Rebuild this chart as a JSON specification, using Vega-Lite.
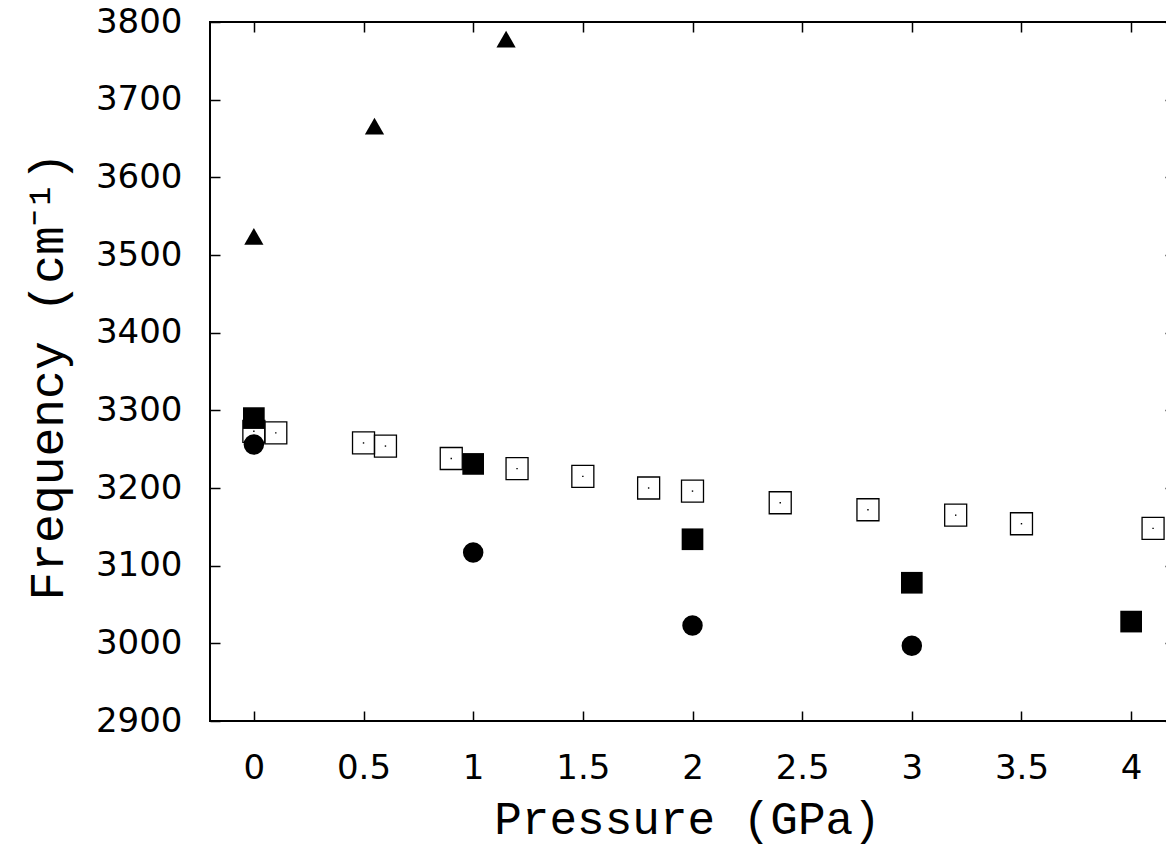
{
  "$schema": "https://vega.github.io/schema/vega-lite/v6.json",
  "autosize": {"type": "none"},
  "padding": {"left": 210, "top": 22, "right": -9, "bottom": 125},
  "width": 965,
  "height": 699,
  "background": "white",
  "config": {
    "view": {"stroke": "black", "strokeWidth": 2},
    "axis": {
      "grid": false,
      "domain": false,
      "ticks": true,
      "tickColor": "black",
      "tickWidth": 1.5,
      "tickSize": -10,
      "labelFont": "DejaVu Sans",
      "labelFontSize": 34,
      "labelColor": "black",
      "labelFlush": false,
      "labelOverlap": false,
      "titleFont": "Liberation Mono",
      "titleFontWeight": "normal",
      "titleColor": "black"
    }
  },
  "datasets": {
    "open": [
      {"p": 0, "f": 3273},
      {"p": 0.1, "f": 3271},
      {"p": 0.5, "f": 3258},
      {"p": 0.6, "f": 3254},
      {"p": 0.9, "f": 3238},
      {"p": 1.2, "f": 3225},
      {"p": 1.5, "f": 3215},
      {"p": 1.8, "f": 3200},
      {"p": 2.0, "f": 3196},
      {"p": 2.4, "f": 3181},
      {"p": 2.8, "f": 3172},
      {"p": 3.2, "f": 3165},
      {"p": 3.5, "f": 3154},
      {"p": 4.1, "f": 3148}
    ],
    "filled": [
      {"series": "square", "p": 0, "f": 3290},
      {"series": "square", "p": 1, "f": 3231},
      {"series": "square", "p": 2, "f": 3134},
      {"series": "square", "p": 3, "f": 3078},
      {"series": "square", "p": 4, "f": 3028},
      {"series": "circle", "p": 0, "f": 3256},
      {"series": "circle", "p": 1, "f": 3117},
      {"series": "circle", "p": 2, "f": 3023},
      {"series": "circle", "p": 3, "f": 2997},
      {"series": "triangle", "p": 0, "f": 3524},
      {"series": "triangle", "p": 0.55, "f": 3666},
      {"series": "triangle", "p": 1.15, "f": 3778}
    ]
  },
  "layer": [
    {
      "data": {"name": "open"},
      "mark": {"type": "point", "shape": "square", "filled": false, "stroke": "black", "strokeWidth": 1.3, "size": 484, "opacity": 1},
      "encoding": {
        "x": {
          "field": "p", "type": "quantitative",
          "scale": {"domain": [-0.2, 4.2], "nice": false, "zero": false},
          "axis": {
            "orient": "bottom",
            "values": [0, 0.5, 1, 1.5, 2, 2.5, 3, 3.5, 4],
            "format": "~g",
            "labelPadding": 40,
            "title": "Pressure (GPa)",
            "titleFontSize": 46,
            "titleX": 477,
            "titleY": 112,
            "titleAlign": "center",
            "titleBaseline": "alphabetic"
          }
        },
        "y": {
          "field": "f", "type": "quantitative",
          "scale": {"domain": [2900, 3800], "nice": false, "zero": false},
          "axis": {
            "orient": "left",
            "values": [2900, 3000, 3100, 3200, 3300, 3400, 3500, 3600, 3700, 3800],
            "format": "d",
            "labelPadding": 38,
            "title": "Frequency (cm⁻¹)",
            "titleFontSize": 48,
            "titleAngle": -90,
            "titleX": -148,
            "titleY": 354,
            "titleAlign": "center",
            "titleBaseline": "alphabetic"
          }
        }
      }
    },
    {
      "data": {"name": "open"},
      "mark": {"type": "point", "shape": "square", "filled": true, "color": "black", "size": 2, "opacity": 1},
      "encoding": {
        "x": {
          "field": "p", "type": "quantitative",
          "scale": {"domain": [-0.2, 4.2], "nice": false, "zero": false},
          "axis": {"orient": "top", "values": [0, 0.5, 1, 1.5, 2, 2.5, 3, 3.5, 4], "labels": false, "title": null}
        },
        "y": {
          "field": "f", "type": "quantitative",
          "scale": {"domain": [2900, 3800], "nice": false, "zero": false},
          "axis": {"orient": "right", "values": [2900, 3000, 3100, 3200, 3300, 3400, 3500, 3600, 3700, 3800], "labels": false, "title": null}
        }
      }
    },
    {
      "data": {"name": "filled"},
      "mark": {"type": "point", "filled": true, "color": "black", "opacity": 1, "strokeWidth": 0},
      "encoding": {
        "x": {
          "field": "p", "type": "quantitative",
          "scale": {"domain": [-0.2, 4.2], "nice": false, "zero": false},
          "axis": null
        },
        "y": {
          "field": "f", "type": "quantitative",
          "scale": {"domain": [2900, 3800], "nice": false, "zero": false},
          "axis": null
        },
        "shape": {
          "field": "series", "type": "nominal",
          "scale": {"domain": ["square", "circle", "triangle"], "range": ["square", "circle", "triangle-up"]},
          "legend": null
        },
        "size": {
          "field": "series", "type": "nominal",
          "scale": {"domain": ["square", "circle", "triangle"], "range": [470, 370, 480]},
          "legend": null
        }
      }
    }
  ],
  "resolve": {"axis": {"x": "independent", "y": "independent"}}
}
